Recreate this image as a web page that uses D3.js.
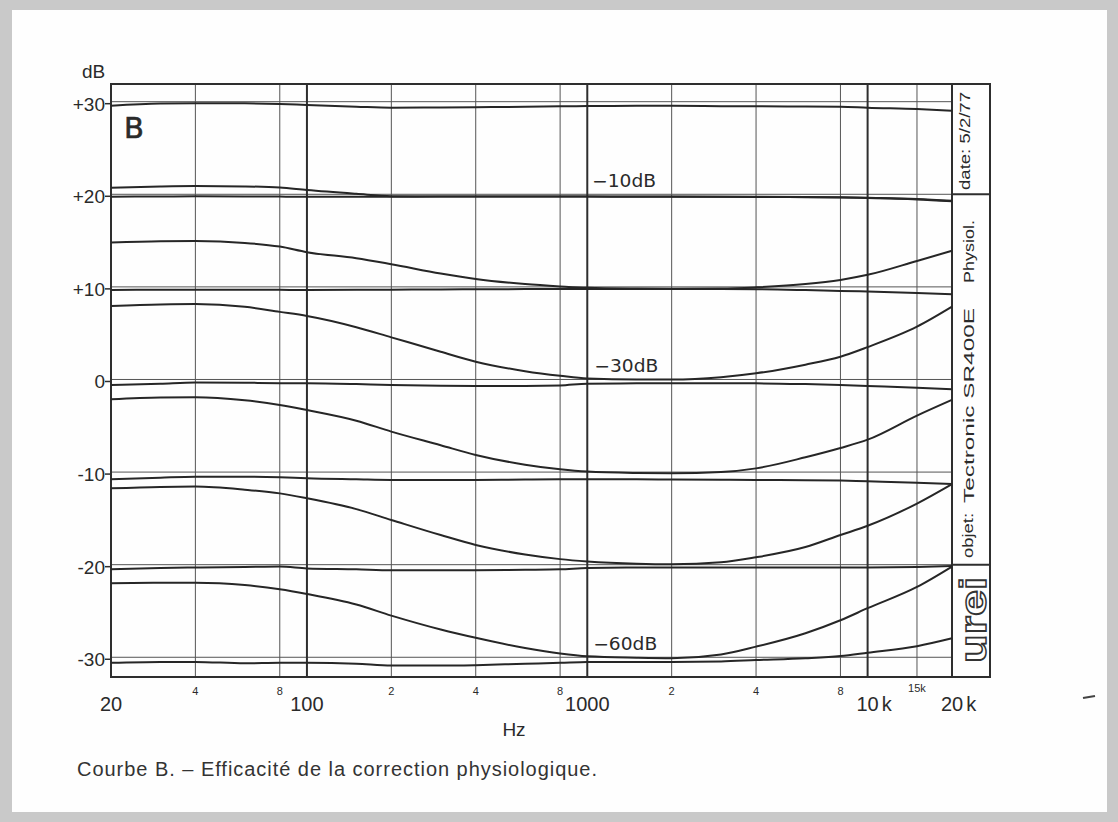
<!DOCTYPE html>
<html>
<head>
<meta charset="utf-8">
<script src="https://cdn.jsdelivr.net/npm/d3@7"></script>
<style>
  body { margin: 0; background: #fff; }
  #viz_container { width: 1118px; height: 822px; }
  text { font-family: 'Liberation Sans', Arial, sans-serif; fill: #2a2a2a; }
</style>
</head>
<body>
<div id="viz_container"></div>
<script>
//Data/////////////////////////////////////////////////////
const freqs = [20, 30, 40, 60, 80, 100, 150, 200, 300, 400, 600, 800, 1000, 1500, 2000, 3000, 4000, 6000, 8000, 10000, 15000, 20000];

// flat responses (correction off) and boosted ones (correction on), in dB
const flat30   = [29.57, 29.8, 29.83, 29.82, 29.75, 29.64, 29.46, 29.35, 29.38, 29.4, 29.45, 29.5, 29.53, 29.55, 29.57, 29.52, 29.5, 29.48, 29.46, 29.35, 29.2, 29.03];
const flat20   = [19.74, 19.76, 19.78, 19.77, 19.75, 19.74, 19.74, 19.74, 19.75, 19.75, 19.75, 19.75, 19.75, 19.74, 19.74, 19.73, 19.72, 19.68, 19.65, 19.6, 19.45, 19.25];
const boost20  = [20.7, 20.85, 20.9, 20.85, 20.72, 20.45, 20.05, 19.8, 19.76, 19.76, 19.76, 19.76, 19.76, 19.75, 19.75, 19.74, 19.73, 19.7, 19.67, 19.62, 19.5, 19.3];
const flat10   = [9.67, 9.69, 9.7, 9.69, 9.68, 9.67, 9.68, 9.7, 9.72, 9.75, 9.76, 9.77, 9.77, 9.77, 9.77, 9.76, 9.75, 9.65, 9.55, 9.5, 9.35, 9.2];
const boost10  = [14.8, 14.93, 14.95, 14.75, 14.35, 13.75, 13.1, 12.45, 11.45, 10.85, 10.3, 10.05, 9.9, 9.82, 9.8, 9.82, 9.95, 10.3, 10.75, 11.3, 12.8, 13.9];
const flat0    = [-0.6, -0.45, -0.32, -0.35, -0.4, -0.41, -0.5, -0.59, -0.68, -0.7, -0.7, -0.65, -0.45, -0.42, -0.42, -0.42, -0.42, -0.5, -0.6, -0.7, -0.88, -1.06];
const boost0   = [7.94, 8.1, 8.15, 7.85, 7.3, 6.86, 5.65, 4.55, 3.0, 1.92, 0.9, 0.4, 0.1, 0.0, 0.0, 0.25, 0.67, 1.6, 2.46, 3.5, 5.7, 7.86];
const flatM10  = [-10.78, -10.6, -10.5, -10.5, -10.56, -10.67, -10.78, -10.85, -10.85, -10.85, -10.8, -10.78, -10.78, -10.78, -10.8, -10.82, -10.85, -10.88, -10.92, -11.0, -11.15, -11.3];
const boostM10 = [-2.14, -1.95, -1.92, -2.25, -2.75, -3.3, -4.45, -5.63, -7.1, -8.15, -9.2, -9.7, -9.95, -10.1, -10.13, -10.0, -9.6, -8.4, -7.4, -6.5, -3.9, -2.2];
const flatM20  = [-20.5, -20.35, -20.3, -20.25, -20.2, -20.4, -20.5, -20.6, -20.6, -20.6, -20.55, -20.5, -20.35, -20.3, -20.3, -20.3, -20.3, -20.3, -20.3, -20.3, -20.25, -20.15];
const boostM20 = [-11.75, -11.6, -11.57, -11.9, -12.3, -12.83, -14.0, -15.17, -16.8, -17.87, -18.9, -19.4, -19.65, -19.9, -19.96, -19.75, -19.2, -18.1, -16.8, -15.8, -13.4, -11.3];
const flatM30  = [-30.6, -30.5, -30.5, -30.65, -30.6, -30.6, -30.7, -30.9, -30.9, -30.85, -30.7, -30.6, -30.5, -30.5, -30.5, -30.45, -30.3, -30.1, -29.86, -29.5, -28.8, -27.95];
const boostM30 = [-22.0, -21.95, -21.95, -22.2, -22.65, -23.16, -24.3, -25.5, -27.0, -27.9, -29.0, -29.6, -29.9, -30.05, -30.1, -29.7, -28.85, -27.4, -26.0, -24.7, -22.4, -20.2];

const allCurves = [flat30, flat20, boost20, flat10, boost10, flat0, boost0, flatM10, boostM10, flatM20, boostM20, flatM30, boostM30];

// y ticks
const dbTicks = [30, 20, 10, 0, -10, -20, -30];
const dbLabels = ["+30", "+20", "+10", "0", "-10", "-20", "-30"];

// x grid
const gridFreqs = [40, 80, 200, 400, 800, 2000, 4000, 8000, 15000];
const decadeFreqs = [100, 1000, 10000];
const bigFreqs = [20, 100, 1000, 10000, 20000];
const bigLabels = ["20", "100", "1000", "10", "20"];
const bigSuffix = ["", "", "", "k", "k"];
const smallFreqs = [40, 80, 200, 400, 800, 2000, 4000, 8000, 15000];
const smallLabels = ["4", "8", "2", "4", "8", "2", "4", "8", "15k"];

// level notes written on the curves
const noteTexts = ["\u221210dB", "\u221230dB", "\u221260dB"];
const noteFreqs = [1040, 1060, 1050];
const noteDb = [20.8, 0.8, -29.2];

// dimensions
const W = 1118, H = 822;
const plotLeft = 111, plotRight = 952, plotTop = 84, plotBottom = 677, stripRight = 990;

const svg = d3.select("#viz_container")
  .append("svg")
    .attr("width", W)
    .attr("height", H);

// scanned page border
svg.append("rect").attr("width", W).attr("height", H).attr("fill", "#c9c9c9");
svg.append("rect").attr("x", 12).attr("y", 10).attr("width", W - 23).attr("height", H - 20).attr("fill", "#fefefe");

// scales
const x = d3.scaleLog().domain([20, 20000]).range([plotLeft, plotRight]);
const y = d3.scaleLinear().domain([-32.13, 31.91]).range([plotBottom, plotTop]);

const grid = svg.append("g").attr("stroke", "#555").attr("stroke-width", 1).attr("fill", "none");

// horizontal grid at every 10 dB
grid.append("g")
  .selectAll("line")
  .data(dbTicks)
  .join("line")
    .attr("x1", plotLeft).attr("x2", plotRight)
    .attr("y1", d => y(d)).attr("y2", d => y(d));

// thin vertical grid
grid.append("g")
  .selectAll("line")
  .data(gridFreqs)
  .join("line")
    .attr("x1", d => x(d)).attr("x2", d => x(d))
    .attr("y1", plotTop).attr("y2", plotBottom);

// decade lines
svg.append("g")
  .selectAll("line")
  .data(decadeFreqs)
  .join("line")
    .attr("x1", d => x(d)).attr("x2", d => x(d))
    .attr("y1", plotTop).attr("y2", plotBottom)
    .attr("stroke", "#2e2e2e")
    .attr("stroke-width", 2);

// frame + side strip
svg.append("rect")
  .attr("x", plotLeft).attr("y", plotTop)
  .attr("width", stripRight - plotLeft).attr("height", plotBottom - plotTop)
  .attr("fill", "none").attr("stroke", "#2e2e2e").attr("stroke-width", 2);
svg.append("line")
  .attr("x1", plotRight).attr("x2", plotRight).attr("y1", plotTop).attr("y2", plotBottom)
  .attr("stroke", "#2e2e2e").attr("stroke-width", 2);
svg.append("g")
  .selectAll("line")
  .data([20, -20])
  .join("line")
    .attr("x1", plotRight).attr("x2", stripRight)
    .attr("y1", d => y(d)).attr("y2", d => y(d))
    .attr("stroke", "#2e2e2e").attr("stroke-width", 2);

// curves
const line = d3.line()
  .x((d, i) => x(freqs[i]))
  .y(d => y(d))
  .curve(d3.curveMonotoneX);

svg.append("g")
  .selectAll("path")
  .data(allCurves)
  .join("path")
    .attr("d", line)
    .attr("fill", "none")
    .attr("stroke", "#262626")
    .attr("stroke-width", 2)
    .attr("stroke-linejoin", "round");

// y axis ticks and labels
const yAx = svg.append("g");
yAx.selectAll("line")
  .data(dbTicks)
  .join("line")
    .attr("x1", plotLeft - 6).attr("x2", plotLeft)
    .attr("y1", d => y(d) + 2).attr("y2", d => y(d) + 2)
    .attr("stroke", "#2e2e2e").attr("stroke-width", 1.5);
yAx.selectAll("text")
  .data(dbTicks)
  .join("text")
    .attr("x", plotLeft - 6)
    .attr("y", d => y(d) + 2)
    .attr("dy", "0.36em")
    .attr("text-anchor", "end")
    .style("font-size", "19px")
    .text((d, i) => dbLabels[i]);

svg.append("text")
  .attr("x", 82).attr("y", 78)
  .style("font-size", "19px")
  .text("dB");

// x labels
const xAx = svg.append("g");
bigFreqs.forEach((f, i) => {
  const t = xAx.append("text")
    .attr("x", x(f)).attr("y", 711)
    .attr("text-anchor", "middle")
    .style("font-size", "20px")
    .text(bigLabels[i]);
  if (bigSuffix[i]) {
    const w = t.node().getComputedTextLength();
    xAx.append("text")
      .attr("x", x(f) + w / 2 + 3).attr("y", 711)
      .style("font-size", "20px")
      .text(bigSuffix[i]);
  }
});
xAx.append("g")
  .selectAll("text")
  .data(smallFreqs)
  .join("text")
    .attr("x", d => x(d))
    .attr("y", d => d === 15000 ? 692 : 695)
    .attr("text-anchor", "middle")
    .style("font-size", "11px")
    .text((d, i) => smallLabels[i]);

svg.append("text")
  .attr("x", 514).attr("y", 736)
  .attr("text-anchor", "middle")
  .style("font-size", "19px")
  .text("Hz");

// big B
svg.append("text")
  .attr("x", 124).attr("y", 138)
  .style("font-family", "'DejaVu Sans', sans-serif")
  .style("font-size", "29px")
  .style("stroke", "#2a2a2a")
  .style("stroke-width", 0.6)
  .text("B");

// curve notes
svg.append("g")
  .selectAll("text")
  .data(noteTexts)
  .join("text")
    .attr("x", (d, i) => x(noteFreqs[i]))
    .attr("y", (d, i) => y(noteDb[i]))
    .style("font-family", "'DejaVu Sans', sans-serif")
    .style("font-size", "17px")
    .attr("textLength", 64)
    .attr("lengthAdjust", "spacingAndGlyphs")
    .text(d => d);

// side strip texts
const strip = [
  { t: "date: 5/2/77", bx: 970, by: 190, len: 98 },
  { t: "objet:", bx: 973, by: 558, len: 45 },
  { t: "Tectronic SR400E", bx: 974, by: 503, len: 195 },
  { t: "Physiol.", bx: 974, by: 283, len: 63 }
];
svg.append("g")
  .selectAll("text")
  .data(strip)
  .join("text")
    .attr("transform", d => `translate(${d.bx},${d.by}) rotate(-90)`)
    .style("font-size", "15px")
    .attr("textLength", d => d.len)
    .attr("lengthAdjust", "spacingAndGlyphs")
    .text(d => d.t);

// urei logo
svg.append("text")
  .attr("transform", "translate(986,663) rotate(-90)")
  .style("font-size", "36px")
  .style("font-weight", "bold")
  .style("fill", "#fff")
  .style("stroke", "#333")
  .style("stroke-width", 1.5)
  .attr("textLength", 86)
  .attr("lengthAdjust", "spacingAndGlyphs")
  .text("urei");

// caption
svg.append("text")
  .attr("x", 77).attr("y", 776)
  .style("font-size", "20px")
  .style("fill", "#333")
  .attr("textLength", 520)
  .attr("lengthAdjust", "spacing")
  .text("Courbe B. \u2013 Efficacit\u00e9 de la correction physiologique.");

// stray mark on the scan
svg.append("line")
  .attr("x1", 1083).attr("x2", 1095).attr("y1", 698).attr("y2", 696)
  .attr("stroke", "#444").attr("stroke-width", 2);
</script>
</body>
</html>
